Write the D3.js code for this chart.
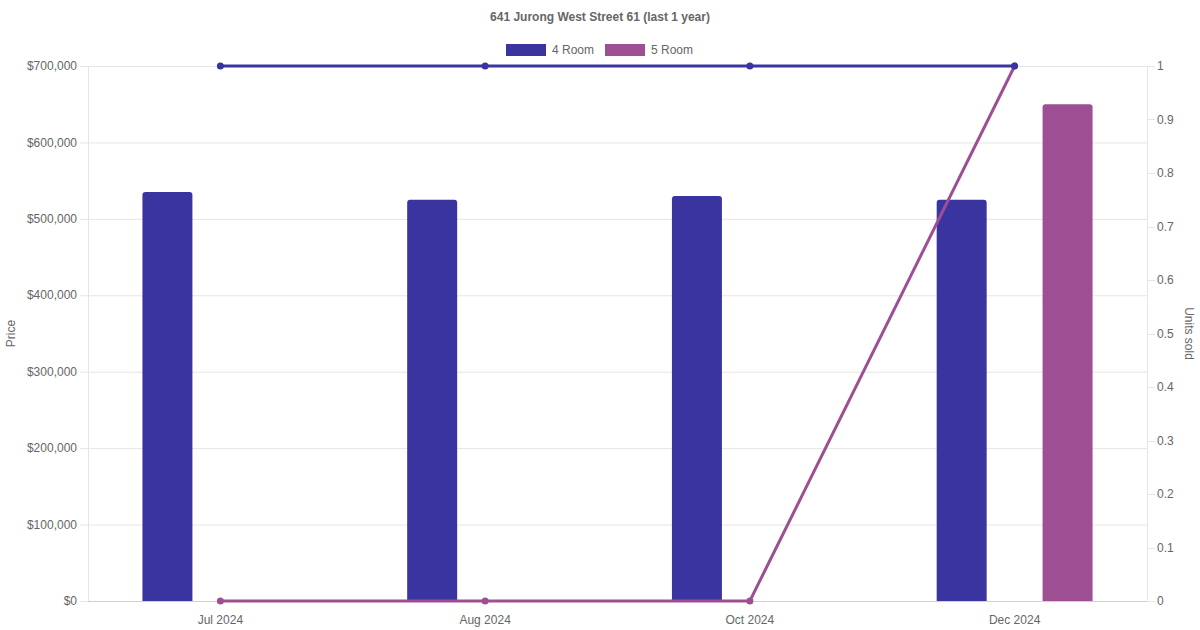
<!DOCTYPE html>
<html><head><meta charset="utf-8">
<script src="https://cdn.jsdelivr.net/npm/d3@7"></script>
<style>body{margin:0;background:#fff}svg{display:block;font-family:"Liberation Sans",Arial,sans-serif}</style>
</head><body><svg id="c" width="1200" height="630"></svg>
<script>
const title = "641 Jurong West Street 61 (last 1 year)";
const categories = ["Jul 2024","Aug 2024","Oct 2024","Dec 2024"];
const seriesNames = ["4 Room","5 Room"];
const colors = ["#3a34a0","#9e4f94"];
const price4 = [535000,525000,530000,525000];
const price5 = [0,0,0,650000];
const units4 = [1,1,1,1];
const units5 = [0,0,0,1];
const priceTicks = [0,100000,200000,300000,400000,500000,600000,700000];
const unitTicks = [0,0.1,0.2,0.3,0.4,0.5,0.6,0.7,0.8,0.9,1];

const svg = d3.select("#c");
const L=88,R=1147,T=66,B=601;
const x = d3.scaleBand().domain(categories).range([L,R]);
const sub = d3.scaleBand().domain(seriesNames).range([x.bandwidth()*0.1, x.bandwidth()*0.9]);
const yL = d3.scaleLinear().domain([0,700000]).range([B,T]);
const yR = d3.scaleLinear().domain([0,1]).range([B,T]);
const grey="#666", grid="#e5e5e5";

// grid lines
svg.append("g").selectAll("line").data(priceTicks).join("line")
  .attr("x1",L-8).attr("x2",R).attr("y1",d=>yL(d)+0.5).attr("y2",d=>yL(d)+0.5)
  .attr("stroke",grid).attr("stroke-width",1);
// right ticks
svg.append("g").selectAll("line").data(unitTicks).join("line")
  .attr("x1",R).attr("x2",R+8).attr("y1",d=>Math.round(yR(d))+0.5).attr("y2",d=>Math.round(yR(d))+0.5)
  .attr("stroke",grid);
// axis borders
svg.append("line").attr("x1",L+0.5).attr("x2",L+0.5).attr("y1",T).attr("y2",B).attr("stroke",grid);
svg.append("line").attr("x1",R+0.5).attr("x2",R+0.5).attr("y1",T).attr("y2",B).attr("stroke",grid);
svg.append("line").attr("x1",L).attr("x2",R).attr("y1",B+0.5).attr("y2",B+0.5).attr("stroke","#d0d0d0");

// left labels
const fmt = d=>"$"+d3.format(",")(d);
svg.append("g").selectAll("text").data(priceTicks).join("text")
  .attr("x",L-11).attr("y",d=>yL(d)).attr("dy","0.35em").attr("text-anchor","end")
  .attr("font-size",12).attr("fill",grey).text(fmt);
svg.append("g").selectAll("text").data(unitTicks).join("text")
  .attr("x",R+10).attr("y",d=>yR(d)).attr("dy","0.35em").attr("text-anchor","start")
  .attr("font-size",12).attr("fill",grey).text(d=>d3.format("~g")(d));
svg.append("g").selectAll("text").data(categories).join("text")
  .attr("x",d=>x(d)+x.bandwidth()/2).attr("y",B+23).attr("text-anchor","middle")
  .attr("font-size",12).attr("fill",grey).text(d=>d);

// axis titles
svg.append("text").attr("transform",`translate(15,${(T+B)/2}) rotate(-90)`).attr("text-anchor","middle")
  .attr("font-size",12).attr("fill",grey).text("Price");
svg.append("text").attr("transform",`translate(1185,${(T+B)/2}) rotate(90)`).attr("text-anchor","middle")
  .attr("font-size",12).attr("fill",grey).text("Units sold");

// title
svg.append("text").attr("x",600).attr("y",21).attr("text-anchor","middle").attr("font-size",12)
  .attr("font-weight","bold").attr("fill",grey).text(title);

// legend
const legX=[506,605];
seriesNames.forEach((s,i)=>{
  svg.append("rect").attr("x",legX[i]).attr("y",44).attr("width",40).attr("height",12).attr("fill",colors[i]);
  svg.append("text").attr("x",legX[i]+46).attr("y",50).attr("dy","0.35em").attr("font-size",12).attr("fill",grey).text(s);
});

// bars
const bw=50, r=3;
function barPath(x0,y0,w,h){
  if(h<=0) return "";
  const rr=Math.min(r,h);
  return `M${x0},${y0+h}V${y0+rr}Q${x0},${y0} ${x0+rr},${y0}H${x0+w-rr}Q${x0+w},${y0} ${x0+w},${y0+rr}V${y0+h}Z`;
}
[price4,price5].forEach((vals,si)=>{
  svg.append("g").selectAll("path").data(vals.map((v,i)=>({v,c:categories[i]}))).join("path")
    .attr("d",d=>{
      const cx = x(d.c)+sub(seriesNames[si])+sub.bandwidth()/2;
      const y0=yL(d.v);
      return barPath(cx-bw/2,y0,bw,B-y0);
    }).attr("fill",colors[si]);
});

// lines (5 Room first so 4 Room sits on top)
[[units5,1],[units4,0]].forEach(([vals,si])=>{
  const pts = vals.map((v,i)=>[x(categories[i])+x.bandwidth()/2, yR(v)]);
  svg.append("path").attr("d",d3.line()(pts)).attr("fill","none").attr("stroke",colors[si]).attr("stroke-width",3);
  svg.append("g").selectAll("circle").data(pts).join("circle")
    .attr("cx",d=>d[0]).attr("cy",d=>d[1]).attr("r",3.5).attr("fill",colors[si]);
});
</script></body></html>
